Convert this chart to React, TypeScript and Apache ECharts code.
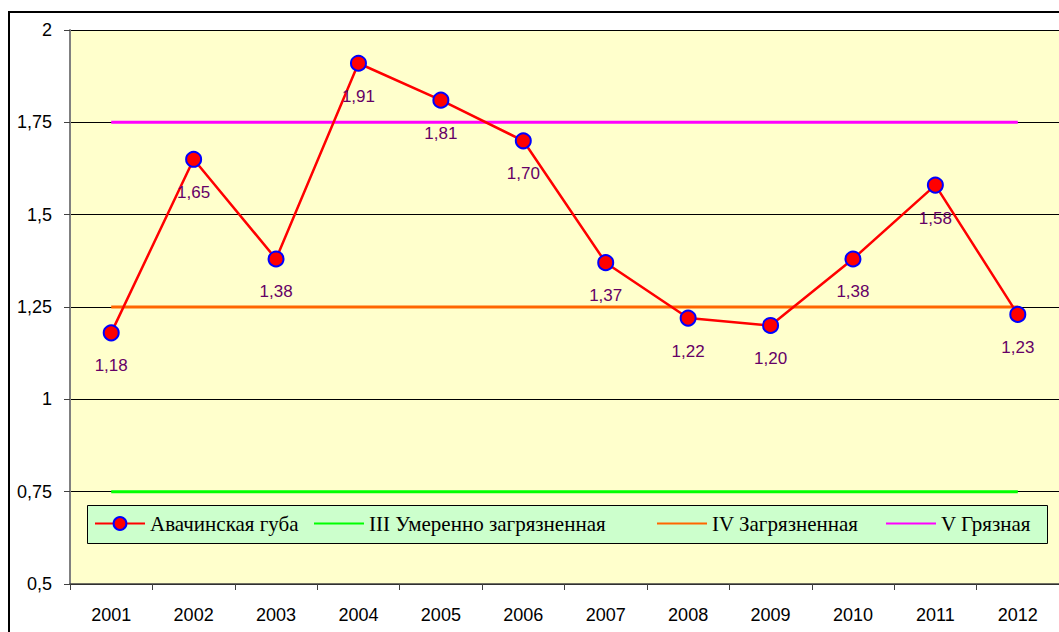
import React, { useEffect, useRef } from "react";
import * as echarts from "echarts";

const years = ["2001", "2002", "2003", "2004", "2005", "2006", "2007", "2008", "2009", "2010", "2011", "2012"];
const avachaValues = [1.18, 1.65, 1.38, 1.91, 1.81, 1.7, 1.37, 1.22, 1.2, 1.38, 1.58, 1.23];
const levelIII = 0.75;
const levelIV = 1.25;
const levelV = 1.75;
const seriesNames = ["Авачинская губа", "III Умеренно загрязненная", "IV Загрязненная", "V Грязная"];

const fmt = (v: number) => String(v).replace(".", ",");

export default function App() {
  const ref = useRef<HTMLDivElement>(null);
  useEffect(() => {
    if (!ref.current) return;
    const chart = echarts.init(ref.current, null, { renderer: "svg" });
    const flat = (v: number) => years.map(() => v);
    const hidden = { color: "rgba(0,0,0,0)", borderWidth: 0, borderColor: "rgba(0,0,0,0)" };
    const legendLefts = [94, 313, 656, 885];
    const legends = seriesNames.map((name, i) => ({
      left: legendLefts[i],
      top: 513,
      z: 6,
      itemWidth: 50,
      itemHeight: 16,
      padding: 0,
      selectedMode: false,
      textStyle: { fontFamily: "Liberation Serif", fontSize: 21, color: "#000" },
      data: [i === 0 ? { name } : { name, itemStyle: hidden }],
    }));
    chart.setOption({
      animation: false,
      backgroundColor: "#ffffff",
      graphic: [
        {
          type: "rect",
          z: -10,
          shape: { x: 9, y: 12, width: 1200, height: 800 },
          style: { fill: "none", stroke: "#000", lineWidth: 2 },
        },
        {
          type: "rect",
          z: 5,
          shape: { x: 87.5, y: 505.5, width: 960, height: 38 },
          style: { fill: "#CCFFCC", stroke: "#000", lineWidth: 1 },
        },
      ],
      grid: {
        left: 70,
        top: 30,
        width: 990,
        height: 554,
        show: true,
        backgroundColor: "#FFFFCC",
        borderWidth: 0,
        containLabel: false,
      },
      legend: legends,
      xAxis: {
        type: "category",
        data: years,
        boundaryGap: true,
        axisLine: { lineStyle: { color: "#404040", width: 1.5 } },
        axisTick: { show: true, length: 6, lineStyle: { color: "#404040" } },
        axisLabel: { fontFamily: "Liberation Sans", fontSize: 18, color: "#000", margin: 22 },
        splitLine: { show: false },
      },
      yAxis: {
        type: "value",
        min: 0.5,
        max: 2,
        interval: 0.25,
        axisLine: { show: true, lineStyle: { color: "#808080", width: 2 } },
        axisTick: { show: true, length: 6, lineStyle: { color: "#404040" } },
        axisLabel: {
          fontFamily: "Liberation Sans",
          fontSize: 18,
          color: "#000",
          margin: 18,
          formatter: (v: number) => fmt(v),
        },
        splitLine: { show: true, lineStyle: { color: "#000", width: 1 } },
      },
      series: [
        {
          name: seriesNames[0],
          type: "line",
          data: avachaValues,
          z: 4,
          symbol: "circle",
          symbolSize: 15,
          itemStyle: { color: "#FF0000", borderColor: "#0000FF", borderWidth: 2 },
          lineStyle: { color: "#FF0000", width: 2.5 },
          label: {
            show: true,
            position: "bottom",
            distance: 16,
            fontFamily: "Liberation Sans",
            fontSize: 17,
            color: "#660066",
            formatter: (p: any) => fmt(p.value).padEnd(4, "0"),
          },
        },
        {
          name: seriesNames[1],
          type: "line",
          data: flat(levelIII),
          symbol: "none",
          z: 3,
          itemStyle: { color: "#00FF00" },
          lineStyle: { color: "#00FF00", width: 3 },
        },
        {
          name: seriesNames[2],
          type: "line",
          data: flat(levelIV),
          symbol: "none",
          z: 3,
          itemStyle: { color: "#FF6600" },
          lineStyle: { color: "#FF6600", width: 3 },
        },
        {
          name: seriesNames[3],
          type: "line",
          data: flat(levelV),
          symbol: "none",
          z: 3,
          itemStyle: { color: "#FF00FF" },
          lineStyle: { color: "#FF00FF", width: 3 },
        },
      ],
    });
    return () => chart.dispose();
  }, []);
  return <div ref={ref} style={{ width: 1059, height: 632, position: "absolute", left: 0, top: 0 }} />;
}
